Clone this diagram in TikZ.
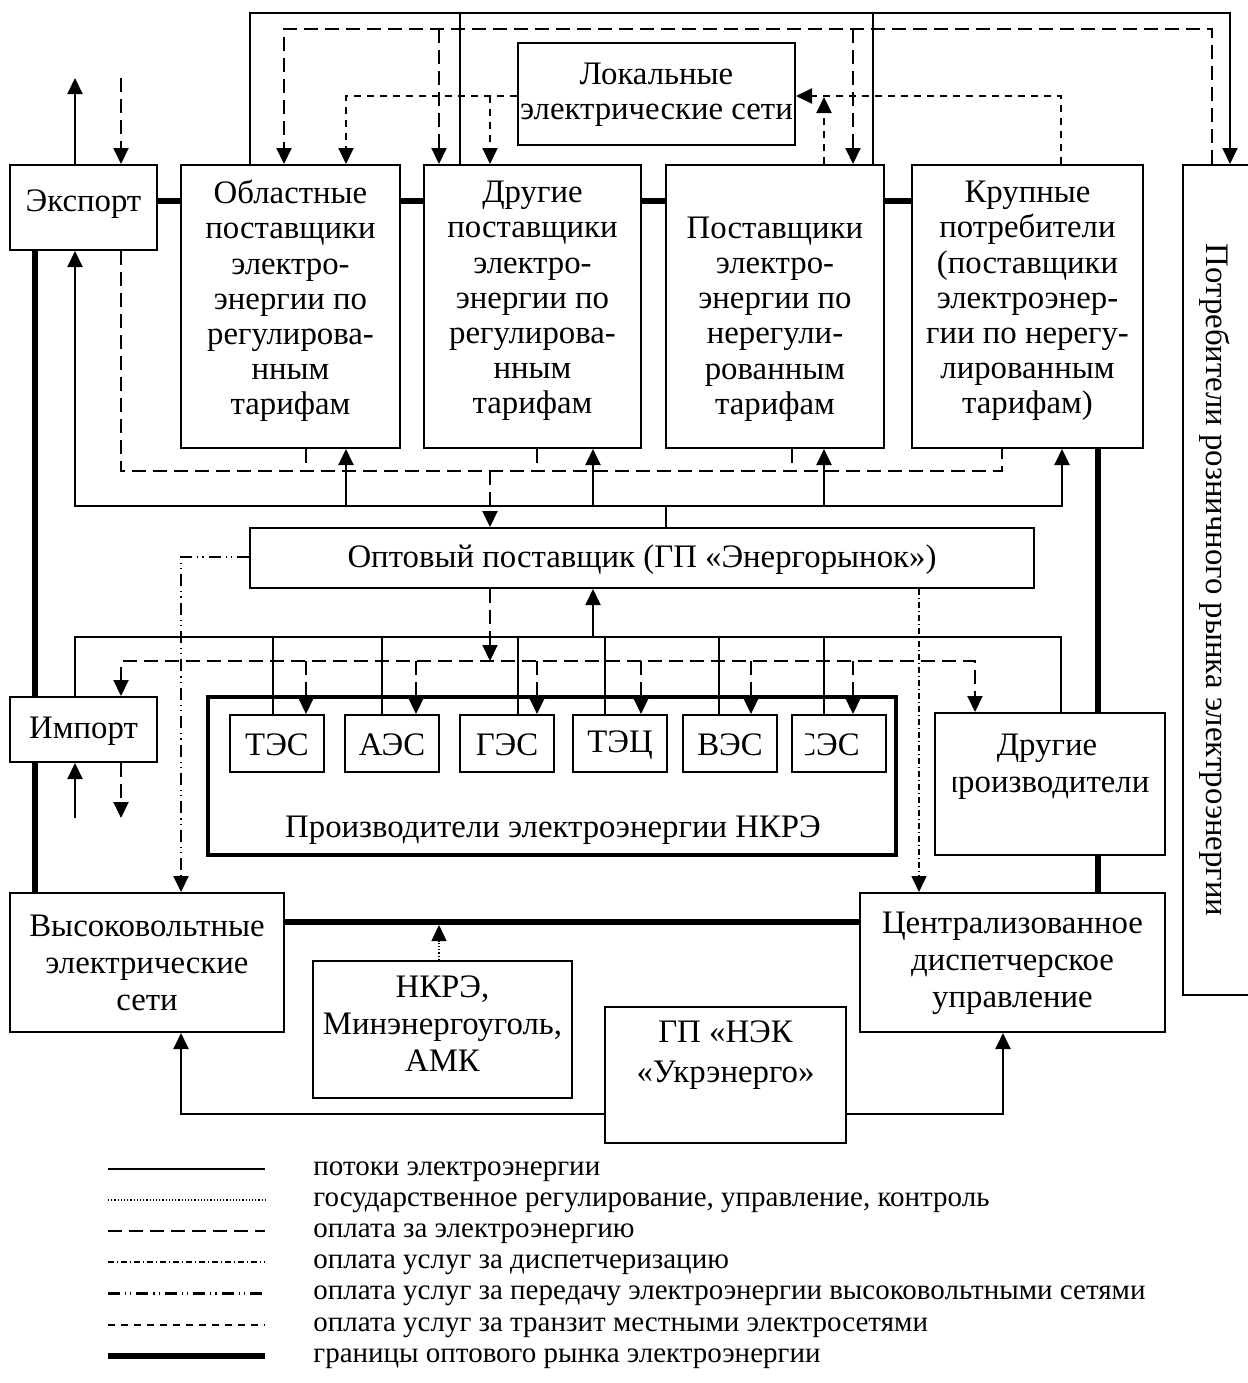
\documentclass[tikz,border=0pt]{standalone}
\usepackage{fontspec}
\setmainfont{Liberation Serif}
\usetikzlibrary{arrows.meta,fit}
\newcommand\mainfs{\fontsize{16.4}{17.6}\selectfont}
\newcommand\legfs{\fontsize{14.5}{16}\selectfont}
\begin{document}
\begin{tikzpicture}[x=0.5pt,y=-0.5pt,
  >={Triangle[width=7.5pt,length=8pt]},
  box/.style={draw,line width=1pt,inner sep=0pt},
  gbox/.style={draw,line width=2pt,inner sep=0pt},
  txt/.style={align=center,inner sep=0pt,font=\mainfs},
  leg/.style={anchor=base west,inner sep=0pt,font=\legfs},
  flow/.style={line width=1pt},
  pay/.style={line width=1pt,dash pattern=on 7pt off 3.5pt},
  transit/.style={line width=1pt,dash pattern=on 3.5pt off 3pt},
  disp/.style={line width=0.8pt,dash pattern=on 3pt off 1.5pt on 0.5pt off 1.5pt},
  hv/.style={line width=1pt,dash pattern=on 6pt off 2.5pt on 0.6pt off 2pt on 0.6pt off 2.5pt},
  reg/.style={line width=0.7pt,dash pattern=on 0.6pt off 1pt},
  bound/.style={line width=2.6pt},
]
\useasboundingbox (0,0) rectangle (1248,1383);

% ---------- boxes ----------
\node[box,fit={(10,165)(157,250)}] (exp) {};
\node[txt] (expt) at (83.5,204) {Экспорт};
\node[box,fit={(181,165)(400,448)}] (obl) {};
\node[txt] (oblt) at (290.5,301) {Областные\\поставщики\\электро-\\энергии по\\регулирова-\\нным\\тарифам};
\node[box,fit={(424,165)(641,448)}] (dr) {};
\node[txt] (drt) at (532.5,301) {Другие\\поставщики\\электро-\\энергии по\\регулирова-\\нным\\тарифам};
\node[box,fit={(666,165)(884,448)}] (pst) {};
\node[txt] (pstt) at (775,319) {Поставщики\\электро-\\энергии по\\нерегули-\\рованным\\тарифам};
\node[box,fit={(912,165)(1143,448)}] (kr) {};
\node[txt] (krt) at (1027.5,301) {Крупные\\потребители\\(поставщики\\электроэнер-\\гии по нерегу-\\лированным\\тарифам)};
\node[box,fit={(1183,165)(1262,995)}] (potr) {};
\node[txt,rotate=-90] (potrt) at (1215,580) {Потребители розничного рынка электроэнергии};

\node[box,fit={(518,43)(795,145)}] (lok) {};
\begin{scope}
\clip (519,44) rectangle (794,144);
\node[txt] (lokt) at (656.5,95) {Локальные\\электрические сети};
\end{scope}

\node[box,fit={(250,528)(1034,588)}] (opt) {};
\node[txt] (optt) at (642,560) {Оптовый поставщик (ГП «Энергорынок»)};

\node[box,fit={(10,697)(157,762)}] (imp) {};
\node[txt] (impt) at (83.5,731) {Импорт};
\node[gbox,fit={(208,697)(896,855)}] (grp) {};
\node[txt] (grpt) at (553,830) {Производители электроэнергии НКРЭ};
\node[box,fit={(230,715)(324,772)}] (tes) {};
\node[txt] (test) at (277,745) {ТЭС};
\node[box,fit={(345,715)(439,772)}] (aes) {};
\node[txt] (aest) at (392,745) {АЭС};
\node[box,fit={(460,715)(554,772)}] (ges) {};
\node[txt] (gest) at (507,745) {ГЭС};
\node[box,fit={(573,715)(667,772)}] (tec) {};
\node[txt] (tect) at (620,745) {ТЭЦ};
\node[box,fit={(683,715)(777,772)}] (ves) {};
\node[txt] (vest) at (730,745) {ВЭС};
\node[box,fit={(792,715)(886,772)}] (ses) {};
\begin{scope}
\clip (805,716) rectangle (885,771);
\node[txt] (sest) at (827,745) {СЭС};
\end{scope}
\node[box,fit={(935,713)(1165,855)}] (drp) {};
\node[txt] (drpt1) at (1047,748) {Другие};
\begin{scope}
\clip (953,714) rectangle (1164,854);
\node[txt] (drpt2) at (1045,788) {производители};
\end{scope}

\node[box,fit={(10,893)(284,1032)}] (vvs) {};
\node[txt,font=\fontsize{16.4}{18.5}\selectfont] (vvst) at (147,963) {Высоковольтные\\электрические\\сети};
\node[box,fit={(860,893)(1165,1032)}] (cdu) {};
\node[txt,font=\fontsize{16.4}{18.5}\selectfont] (cdut) at (1012.5,963) {Централизованное\\диспетчерское\\управление};
\node[box,fit={(313,961)(572,1098)}] (nkre) {};
\node[txt,font=\fontsize{16.4}{18.5}\selectfont] (nkret) at (442.5,1024) {НКРЭ,\\Минэнергоуголь,\\АМК};
\node[box,fit={(605,1007)(846,1143)}] (nek) {};
\node[txt,font=\fontsize{16.4}{20}\selectfont] (nekt) at (725.5,1055) {ГП «НЭК\\«Укрэнерго»};

% ---------- wholesale market boundaries ----------
\draw[bound] (exp.east |- 0,201) -- (obl.west |- 0,201);
\draw[bound] (obl.east |- 0,201) -- (dr.west |- 0,201);
\draw[bound] (dr.east |- 0,201) -- (pst.west |- 0,201);
\draw[bound] (pst.east |- 0,201) -- (kr.west |- 0,201);
\draw[bound] (exp.south -| 35,0) -- (imp.north -| 35,0);
\draw[bound] (imp.south -| 35,0) -- (vvs.north -| 35,0);
\draw[bound] (kr.south -| 1098,0) -- (drp.north -| 1098,0);
\draw[bound] (drp.south -| 1098,0) -- (cdu.north -| 1098,0);
\draw[bound] (vvs.east |- 0,922) -- (cdu.west |- 0,922);

% ---------- top connections ----------
\draw[flow,->] (obl.north -| 250,0) |- (1230,13) -- (potr.north -| 1230,0);
\draw[flow] (dr.north -| 460,0) -- (460,13);
\draw[flow] (pst.north -| 873,0) -- (873,13);

\draw[pay,->] (potr.north -| 1212,0) |- (284,29) -- (obl.north -| 284,0);
\draw[pay,->] (439,29) -- (dr.north -| 439,0);
\draw[pay,->] (853,29) -- (pst.north -| 853,0);

\draw[transit,->] (lok.west |- 0,96) -| (obl.north -| 346,0);
\draw[transit,->] (490,96) -- (dr.north -| 490,0);
\draw[transit,->] (kr.north -| 1061,0) |- (lok.east |- 0,96);
\draw[transit,->] (pst.north -| 824,0) -- (824,97);

\draw[flow,->] (exp.north -| 75,0) -- (75,78);
\draw[pay,->] (121,78) -- (exp.north -| 121,0);

% ---------- above wholesale supplier ----------
\draw[pay] (exp.south -| 121,0) -- (121,471) -- (1002,471) -- (kr.south -| 1002,0);
\draw[pay] (obl.south -| 306,0) -- (306,471);
\draw[pay] (dr.south -| 537,0) -- (537,471);
\draw[pay] (pst.south -| 792,0) -- (792,471);
\draw[pay,->] (490,471) -- (opt.north -| 490,0);

\draw[flow,<->] (exp.south -| 75,0) -- (75,506) -- (1062,506) -- (kr.south -| 1062,0);
\draw[flow,->] (346,506) -- (obl.south -| 346,0);
\draw[flow,->] (593,506) -- (dr.south -| 593,0);
\draw[flow,->] (824,506) -- (pst.south -| 824,0);
\draw[flow] (opt.north -| 666,0) -- (666,506);

% ---------- below wholesale supplier ----------
\draw[flow] (imp.north -| 75,0) -- (75,637) -- (1061,637) -- (drp.north -| 1061,0);
\draw[flow,->] (593,637) -- (opt.south -| 593,0);
\draw[flow] (tes.north -| 273,0) -- (273,637);
\draw[flow] (aes.north -| 382,0) -- (382,637);
\draw[flow] (ges.north -| 518,0) -- (518,637);
\draw[flow] (tec.north -| 605,0) -- (605,637);
\draw[flow] (ves.north -| 719,0) -- (719,637);
\draw[flow] (ses.north -| 824,0) -- (824,637);

\draw[pay,->] (opt.south -| 490,0) -- (490,661);
\draw[pay,<->] (imp.north -| 121,0) -- (121,661) -- (975,661) -- (drp.north -| 975,0);
\draw[pay,->] (306,661) -- (tes.north -| 306,0);
\draw[pay,->] (416,661) -- (aes.north -| 416,0);
\draw[pay,->] (537,661) -- (ges.north -| 537,0);
\draw[pay,->] (641,661) -- (tec.north -| 641,0);
\draw[pay,->] (751,661) -- (ves.north -| 751,0);
\draw[pay,->] (853,661) -- (ses.north -| 853,0);

\draw[flow,->] (75,818) -- (imp.south -| 75,0);
\draw[pay,->] (imp.south -| 121,0) -- (121,818);

\draw[hv,->] (opt.west |- 0,557) -| (vvs.north -| 181,0);
\draw[disp,->] (opt.south -| 919,0) -- (cdu.north -| 919,0);
\draw[reg,->] (nkre.north -| 439,0) -- (439,925);

\draw[flow,->] (nek.west |- 0,1114) -| (vvs.south -| 181,0);
\draw[flow,->] (nek.east |- 0,1114) -| (cdu.south -| 1003,0);

% ---------- legend ----------
\draw[flow] (108,1169) -- (265,1169);
\node[leg] (l1) at (313,1175) {потоки электроэнергии};
\draw[reg] (108,1200) -- (265,1200);
\node[leg] (l2) at (313,1206) {государственное регулирование, управление, контроль};
\draw[pay] (108,1231) -- (265,1231);
\node[leg] (l3) at (313,1237) {оплата за электроэнергию};
\draw[disp] (108,1262) -- (265,1262);
\node[leg] (l4) at (313,1268) {оплата услуг за диспетчеризацию};
\draw[hv,line width=1.5pt] (108,1293) -- (265,1293);
\node[leg] (l5) at (313,1299) {оплата услуг за передачу электроэнергии высоковольтными сетями};
\draw[transit] (108,1325) -- (265,1325);
\node[leg] (l6) at (313,1331) {оплата услуг за транзит местными электросетями};
\draw[bound] (108,1356) -- (265,1356);
\node[leg] (l7) at (313,1362) {границы оптового рынка электроэнергии};
\end{tikzpicture}
\end{document}
